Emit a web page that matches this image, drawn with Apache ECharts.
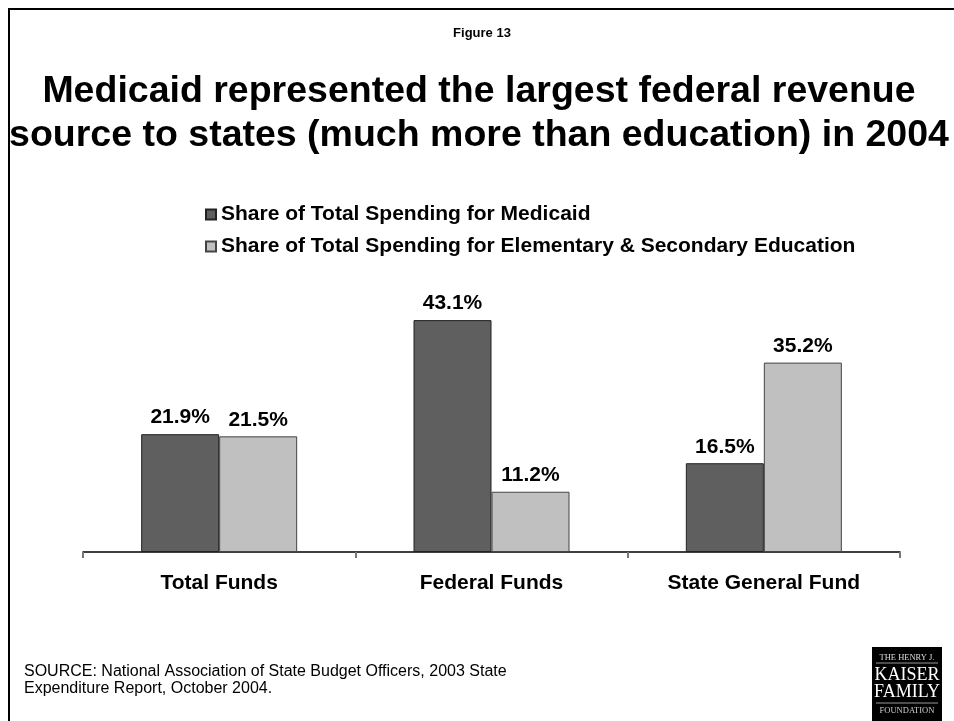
<!DOCTYPE html>
<html>
<head>
<meta charset="utf-8">
<script src="https://cdn.jsdelivr.net/npm/echarts@6/dist/echarts.min.js"></script>
<style>
  html, body { margin: 0; padding: 0; background: #fff; }
  #chart { width: 954px; height: 721px; }
</style>
</head>
<body>
<div id="chart"></div>
<script>
// Federal revenue sources vs. state spending shares, 2004
const categories = ['Total Funds', 'Federal Funds', 'State General Fund'];
const medicaidShare = [21.9, 43.1, 16.5];
const educationShare = [21.5, 11.2, 35.2];
const seriesNames = [
  'Share of Total Spending for Medicaid',
  'Share of Total Spending for Elementary & Secondary Education'
];

const FONT = '"Liberation Sans", Arial, sans-serif';
const SERIF = '"Liberation Serif", "Times New Roman", serif';

const chart = echarts.init(document.getElementById('chart'), null, { renderer: 'canvas' });

const valueLabel = {
  show: true,
  position: 'top',
  distance: 6,
  formatter: p => p.value.toFixed(1) + '%',
  fontFamily: FONT,
  fontWeight: 'bold',
  fontSize: 21,
  color: '#000'
};

chart.setOption({
  animation: false,
  backgroundColor: '#fff',
  title: [
    {
      text: 'Figure 13',
      left: 477, top: 22, textAlign: 'center',
      textStyle: { fontFamily: FONT, fontWeight: 'bold', fontSize: 13, color: '#000' }
    },
    {
      text: 'Medicaid represented the largest federal revenue\nsource to states (much more than education) in 2004',
      left: 474, top: 65, textAlign: 'center',
      textStyle: { fontFamily: FONT, fontWeight: 'bold', fontSize: 37.5, lineHeight: 44, color: '#000' }
    }
  ],
  legend: {
    orient: 'vertical',
    left: 205, top: 204, padding: 0,
    itemWidth: 10, itemHeight: 10, itemGap: 11,
    icon: 'rect',
    selectedMode: false,
    textStyle: { fontFamily: FONT, fontWeight: 'bold', fontSize: 21, lineHeight: 21, color: '#000' },
    data: seriesNames
  },
  grid: { left: 83, right: 54, top: 283, bottom: 169, containLabel: false },
  xAxis: {
    type: 'category',
    data: categories,
    axisLine: { lineStyle: { color: '#000', width: 1.5 } },
    axisTick: { show: true, length: 6, lineStyle: { color: '#777', width: 2 } },
    axisLabel: { margin: 21, fontFamily: FONT, fontWeight: 'bold', fontSize: 21, color: '#000' }
  },
  yAxis: {
    type: 'value', min: 0, max: 50,
    show: false,
    splitLine: { show: false }
  },
  series: [
    {
      name: seriesNames[0], type: 'bar', data: medicaidShare,
      barWidth: 78, barGap: '0%',
      itemStyle: { color: '#5f5f5f', borderColor: '#222', borderWidth: 1 },
      label: valueLabel
    },
    {
      name: seriesNames[1], type: 'bar', data: educationShare,
      barWidth: 78,
      itemStyle: { color: '#c0c0c0', borderColor: '#444', borderWidth: 1 },
      label: valueLabel
    }
  ],
  graphic: [
    // page frame
    { type: 'rect', shape: { x: 9, y: 9, width: 980, height: 760 },
      style: { fill: 'none', stroke: '#000', lineWidth: 2 }, silent: true },
    // source note
    { type: 'text', left: 24, top: 663,
      style: { text: 'SOURCE: National Association of State Budget Officers, 2003 State\nExpenditure Report, October 2004.',
        fontFamily: FONT, fontSize: 16, lineHeight: 17, fill: '#000' } },
    // foundation logo
    { type: 'group', left: 872, top: 647, children: [
      { type: 'rect', shape: { x: 0, y: 0, width: 70, height: 80 }, style: { fill: '#000' } },
      { type: 'text', style: { x: 35, y: 11, text: 'THE HENRY J.', align: 'center', verticalAlign: 'middle',
          fontFamily: SERIF, fontSize: 8.5, fill: '#ddd' } },
      { type: 'line', shape: { x1: 4, y1: 16, x2: 66, y2: 16 }, style: { stroke: '#999', lineWidth: 1 } },
      { type: 'text', style: { x: 35, y: 28, text: 'KAISER', align: 'center', verticalAlign: 'middle',
          fontFamily: SERIF, fontSize: 18, fill: '#fff' } },
      { type: 'text', style: { x: 35, y: 45, text: 'FAMILY', align: 'center', verticalAlign: 'middle',
          fontFamily: SERIF, fontSize: 18, fill: '#fff' } },
      { type: 'line', shape: { x1: 4, y1: 56, x2: 66, y2: 56 }, style: { stroke: '#999', lineWidth: 1 } },
      { type: 'text', style: { x: 35, y: 64, text: 'FOUNDATION', align: 'center', verticalAlign: 'middle',
          fontFamily: SERIF, fontSize: 8.5, fill: '#ccc' } }
    ] }
  ]
});
</script>
</body>
</html>
